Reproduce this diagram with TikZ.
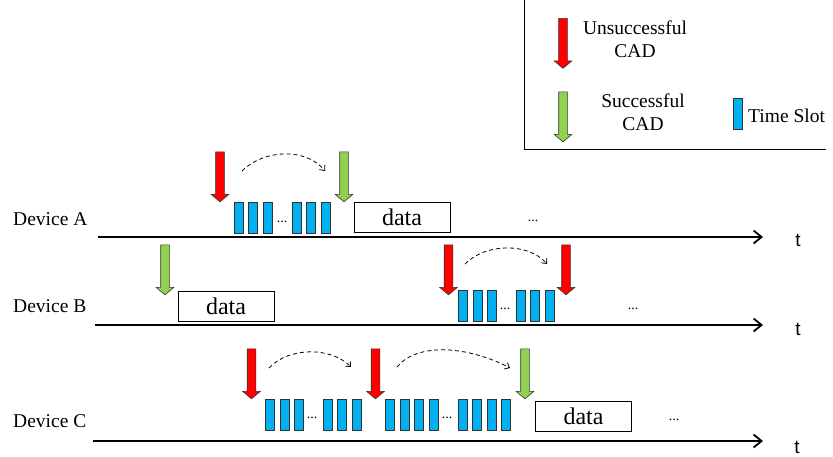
\documentclass[tikz,border=0pt]{standalone}
\usepackage{fontspec}
\setmainfont{Liberation Serif}
\newfontfamily\axisfont{Liberation Sans}
\usetikzlibrary{shapes.arrows,arrows.meta}
\definecolor{cadred}{HTML}{FF0000}
\definecolor{cadgreen}{HTML}{92D050}
\definecolor{slotblue}{HTML}{00B0F0}

\begin{document}
\begin{tikzpicture}[x=1pt,y=-1pt,
  cad/.style={single arrow, rotate=-90, draw=black!80, line width=0.6pt,
    inner xsep=0pt, inner ysep=4pt, minimum height=50pt,
    single arrow head extend=4.5pt, single arrow tip angle=100,
    single arrow head indent=0pt},
  fail/.style={cad, fill=cadred},
  ok/.style={cad, fill=cadgreen},
  slot/.style={draw=black!80, line width=0.6pt, fill=slotblue,
    minimum width=9pt, minimum height=31pt, inner sep=0pt},
  databox/.style={draw, line width=1pt, minimum width=96pt, minimum height=30pt,
    inner sep=0pt, font=\fontsize{24}{24}\selectfont},
  txt/.style={font=\fontsize{19.5}{23}\selectfont, inner sep=0pt},
  device/.style={txt, anchor=base west},
  tlabel/.style={font=\axisfont\fontsize{19}{19}\selectfont, inner sep=0pt, anchor=base},
  more/.style={font=\fontsize{14}{14}\selectfont, inner sep=0pt, anchor=base},
  timeline/.style={line width=1.8pt, -{Straight Barb[length=8pt,width=13pt,line width=1.8pt]}},
  backoff/.style={dash pattern=on 4pt off 3pt, line width=0.8pt,
    -{Straight Barb[length=4pt,width=7pt,line width=0.8pt]}},
]
\useasboundingbox (0,0) rectangle (833,456);

% ---------- legend ----------
\draw[line width=0.8pt] (524,0) -- (524,149) -- (826,149);
\node[fail] (legfail) at (563,41.5) {};
\node[txt, align=center] (legfailtxt) at (635,39) {Unsuccessful\\CAD};
\node[ok] (legok) at (563,115) {};
\node[txt, align=center] (legoktxt) at (643,112) {Successful\\CAD};
\node[slot] (legslot) at (737.5,113.5) {};
\node[txt, anchor=base west] (legslottxt) at (748,122) {Time Slot};

% ---------- Device A ----------
\node[device] (devA) at (13,225) {Device A};
\coordinate (A0) at (98,237);
\coordinate (A1) at (763,237);
\draw[timeline] (A0) -- (A1);
\node[tlabel] (tA) at (798,246) {t};
\node[fail] (Af) at (220,175) {};
\foreach \x [count=\i] in {238.5,253,267.5,296.5,311,325.5}
  \node[slot] (As\i) at (\x,217.5) {};
\node[more] (Adots) at (282,222) {...};
\node[ok] (Aok) at (344,175) {};
\node[databox] (Adata) at (402,217) {data};
\node[more] (Amore) at (533,221) {...};
\coordinate (Aarc0) at (242,171);
\coordinate (Aarc1) at (325,171);
\draw[backoff] (Aarc0) .. controls (265,148.3) and (307,148.3) .. (Aarc1);

% ---------- Device B ----------
\node[device] (devB) at (13,312) {Device B};
\coordinate (B0) at (95,325);
\coordinate (B1) at (763,325);
\draw[timeline] (B0) -- (B1);
\node[tlabel] (tB) at (798,335) {t};
\node[ok] (Bok) at (165,268) {};
\node[databox] (Bdata) at (226,306.5) {data};
\node[fail] (Bf1) at (448.5,268) {};
\foreach \x [count=\i] in {462.5,477.5,491.5,520.5,534.5,549.5}
  \node[slot] (Bs\i) at (\x,305.5) {};
\node[more] (Bdots) at (505,309) {...};
\node[fail] (Bf2) at (566,268) {};
\node[more] (Bmore) at (633,309) {...};
\coordinate (Barc0) at (465,264);
\coordinate (Barc1) at (547,264);
\draw[backoff] (Barc0) .. controls (486,242.7) and (529,242.7) .. (Barc1);

% ---------- Device C ----------
\node[device] (devC) at (13,427) {Device C};
\coordinate (C0) at (93,441);
\coordinate (C1) at (763,441);
\draw[timeline] (C0) -- (C1);
\node[tlabel] (tC) at (797,453) {t};
\node[fail] (Cf1) at (251.5,372) {};
\foreach \x [count=\i] in {270,284.5,298.5,327.5,342,356.5}
  \node[slot] (Cs\i) at (\x,414.5) {};
\node[more] (Cdots1) at (312,418) {...};
\node[fail] (Cf2) at (375.5,372) {};
\foreach \x [count=\i] in {390,404.5,419,434,462.5,477,491.5,506}
  \node[slot] (Ct\i) at (\x,414.5) {};
\node[more] (Cdots2) at (447,418) {...};
\node[ok] (Cok) at (525,372) {};
\node[databox] (Cdata) at (583.5,416) {data};
\node[more] (Cmore) at (674,420) {...};
\coordinate (Carc0) at (269,368);
\coordinate (Carc1) at (351,367);
\draw[backoff] (Carc0) .. controls (289,346.7) and (331,346.7) .. (Carc1);
\coordinate (Carc2) at (397,367);
\coordinate (Carc3) at (510,368);
\draw[backoff] (Carc2) .. controls (415,344) and (464,344) .. (Carc3);
\end{tikzpicture}
\end{document}
